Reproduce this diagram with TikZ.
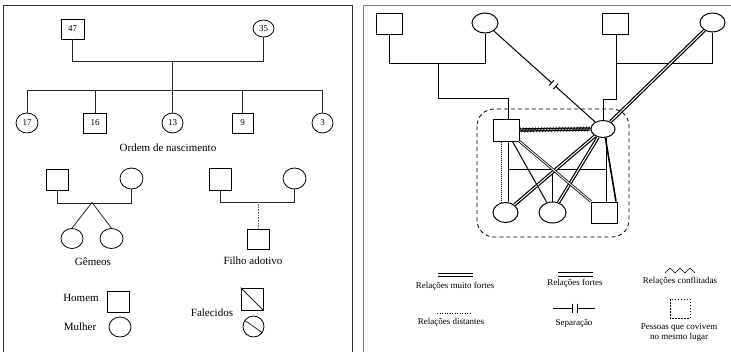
\documentclass[tikz,border=0pt]{standalone}
\usepackage{fontspec}
\setmainfont{Liberation Serif}
\usetikzlibrary{shapes.geometric,calc,decorations.pathmorphing}
\begin{document}
\begin{tikzpicture}[x=1pt,y=-1pt,
 person/.style={draw, fill=white, inner sep=0pt, line width=0.8pt, font=\fontsize{9}{10}\selectfont},
 male/.style={person, rectangle, minimum width=22pt, minimum height=21pt},
 female/.style={person, ellipse, minimum width=22pt, minimum height=20pt},
 link/.style={line width=0.8pt, black!85},
 lbl/.style={font=\fontsize{11}{12}\selectfont, inner sep=0pt},
 leg/.style={font=\fontsize{9}{10}\selectfont, inner sep=0pt, align=center},
 rp/.style={draw, fill=white, inner sep=0pt, line width=1pt},
 rmale/.style={rp, rectangle, minimum width=26pt, minimum height=21pt},
 rfemale/.style={rp, ellipse, minimum width=25pt, minimum height=20pt},
 rlink/.style={line width=1pt},
 vstrong/.style={draw, line width=1.2pt, double, double distance=1pt},
 strong/.style={draw, line width=0.8pt, double, double distance=0.9pt},
 conflict/.style={decorate, decoration={zigzag, amplitude=2pt, segment length=3pt}, line width=0.6pt},
 distant/.style={dash pattern=on 1pt off 1.5pt, line width=0.8pt},
 panel/.style={line width=0.8pt}
]
\useasboundingbox (0,0) rectangle (731,351);
% panels
\draw[panel, black!80] (3,352) -- (3,5) -- (352,5) -- (352,352);
\draw[panel, black!50] (363,352) -- (363,5) -- (731,5);

% ---------- left panel ----------
\node[male, minimum width=23pt, minimum height=20pt] (g47) at (72.5,29) {47};
\node[female, minimum width=21pt, minimum height=17pt] (g35) at (263.5,28.5) {35};
\node[female] (k17) at (27,123) {17};
\node[male, minimum width=23pt, minimum height=20pt] (k16) at (95,123) {16};
\node[female, minimum width=21pt] (k13) at (172.5,123) {13};
\node[male, minimum width=21pt, minimum height=20pt] (k9) at (242.5,123) {9};
\node[female, minimum width=21pt] (k3) at (322.5,123) {3};
\draw[link] (g47.south) -- ++(0,22) -| (g35.south);
\draw[link] (k17.north) -- ++(0,-22) -| (k3.north);
\draw[link] (k13.north) -- ++(0,-52);
\draw[link] (k16.north) -- ++(0,-22);
\draw[link] (k9.north) -- ++(0,-22);
\node[lbl] (ordem) at (168,148) {Ordem de nascimento};

% twins
\node[male] (tf) at (57,180) {};
\node[female, minimum width=23pt, minimum height=21pt] (tm) at (131.5,178.5) {};
\draw[link] (tf.south) -- ++(0,12) -| (tm.south);
\coordinate (apex) at (92,202.5);
\node[female] (tw1) at (72,238.5) {};
\node[female, minimum width=23pt] (tw2) at (111.5,238.5) {};
\draw[link] (tw1.north) -- (apex) -- (tw2.north);
\node[lbl] (gem) at (93,262) {Gêmeos};

% adopted
\node[male, minimum height=22pt] (af) at (220,179) {};
\node[female, minimum width=23pt, minimum height=21pt] (am) at (294.5,178.5) {};
\draw[link] (af.south) -- ++(0,12) -| (am.south);
\node[male, minimum height=20pt] (ad) at (258,239) {};
\draw[line width=0.8pt, black!60, dash pattern=on 0.8pt off 0.8pt] (ad.north) -- ++(0,-27);
\node[lbl] (fil) at (253,261) {Filho adotivo};

% legend left
\node[lbl] (hom) at (81,298) {Homem};
\node[male] (hsym) at (118,301.5) {};
\node[lbl] (mul) at (80,327) {Mulher};
\node[female] (msym) at (120,327) {};
\node[lbl] (fal) at (212,313) {Falecidos};
\node[male, minimum height=22pt] (dsq) at (252,299) {};
\draw[link] (dsq.north west) -- (dsq.south east);
\node[female, minimum width=21pt, minimum height=21pt] (dci) at (253.5,326.5) {};
\draw[link] (dci.145) -- (dci.-35);

% ---------- right panel ----------
\draw[dash pattern=on 4pt off 3pt, line width=0.8pt, rounded corners=17pt] (477,109) rectangle (629,237);

\node[rmale] (rSq1) at (389,23.5) {};
\node[rfemale, minimum width=26pt] (rCi1) at (485,23) {};
\node[rmale] (rSq2) at (615,23.5) {};
\node[rfemale, minimum height=19pt] (rCi2) at (712.5,22.5) {};
\node[rmale, minimum height=22pt] (mSq) at (506,130) {};
\node[rfemale, minimum width=24pt, minimum height=17pt] (mCi) at (603,129) {};
\node[rfemale] (bCi1) at (505.5,212.5) {};
\node[rfemale, minimum width=27pt, minimum height=21pt] (bCi2) at (552.5,212.5) {};
\node[rmale] (bSq) at (604,212.5) {};

% family lines
\draw[rlink] (rSq1.south) -- ++(0,29) -| (rCi1.south);
\coordinate (jA) at (438,63);
\draw[rlink] ([xshift=2pt]mSq.north) -- ++(0,-20) -| (jA);
\draw[rlink] ([xshift=1pt]rSq2.south) -- ++(0,29) -| (rCi2.south);
\coordinate (jB) at (616,63);
\draw[rlink] (mCi.north) -- ++(0,-21) -| (jB);

\coordinate (pL) at ([xshift=2.5pt]mSq.south);
\coordinate (pR) at ([xshift=3pt]mCi.south);
\coordinate (kj) at ([yshift=32pt]bCi2.north);
\draw[rlink] (pL) -- (pL |- bCi1.north);
\draw[rlink] (pR) -- (pR |- bSq.north);
\draw[rlink] (pL |- kj) -- (pR |- kj);
\draw[rlink] (bCi2.north) -- (kj);
\draw[line width=0.8pt, dash pattern=on 0.8pt off 1.2pt] ([xshift=-4.5pt]mSq.south) -- ++(0,61);

% separation
\path (rCi1) -- (mCi) coordinate[pos=0.57] (s1) coordinate[pos=0.61] (s2);
\draw[rlink] (rCi1) -- (s1);
\draw[rlink] (s2) -- (mCi);
\draw[rlink] ($(s1)!3.5pt!90:(mCi)$) -- ($(s1)!3.5pt!-90:(mCi)$);
\draw[rlink] ($(s2)!3.5pt!90:(mCi)$) -- ($(s2)!3.5pt!-90:(mCi)$);

% relations
\draw[vstrong] (rCi2) -- (mCi);
\draw[vstrong] (mCi) -- (bCi1);
\draw[vstrong] (mCi) -- (bCi2);
\draw[line width=1.6pt] (mCi.-75) -- ([xshift=-1.5pt]bSq.north east);
\draw[rlink] (mSq) -- (bCi2);
\draw[strong] (mSq) -- (bSq);
\draw[vstrong] (mSq.east) -- (mCi.west);
\draw[conflict] (mSq.east) -- (mCi.west);

% legend right
\draw[line width=0.9pt] (438,273) -- (473,273);
\draw[line width=0.9pt] (438,276) -- (473,276);
\node[leg] (lmf) at (455,286) {Relações muito fortes};
\draw[line width=0.9pt] (558,272.5) -- (593,272.5);
\draw[line width=0.9pt] (558,276.5) -- (593,276.5);
\node[leg] (lf) at (575,283) {Relações fortes};
\draw[line width=0.6pt] (665,273) -- (670,268) -- (675,273) -- (680,268) -- (685,273) -- (690,268) -- (695,273);
\node[leg] (lc) at (680,281) {Relações conflitadas};
\draw[distant] (437,313) -- (472,313);
\node[leg] (ld) at (451,322) {Relações distantes};
\draw[line width=0.8pt] (553,308) -- (572,308);
\draw[line width=0.8pt] (572,303.5) -- (572,312.5);
\draw[line width=0.8pt] (577,303.5) -- (577,312.5);
\draw[line width=0.8pt] (577,308) -- (595,308);
\node[leg] (ls) at (574,323) {Separação};
\draw[dash pattern=on 1.5pt off 1.5pt, line width=0.7pt] (670,299) rectangle (690,318);
\node[leg] (lp) at (679,332) {Pessoas que covivem\\no mesmo lugar};
\end{tikzpicture}
\end{document}
